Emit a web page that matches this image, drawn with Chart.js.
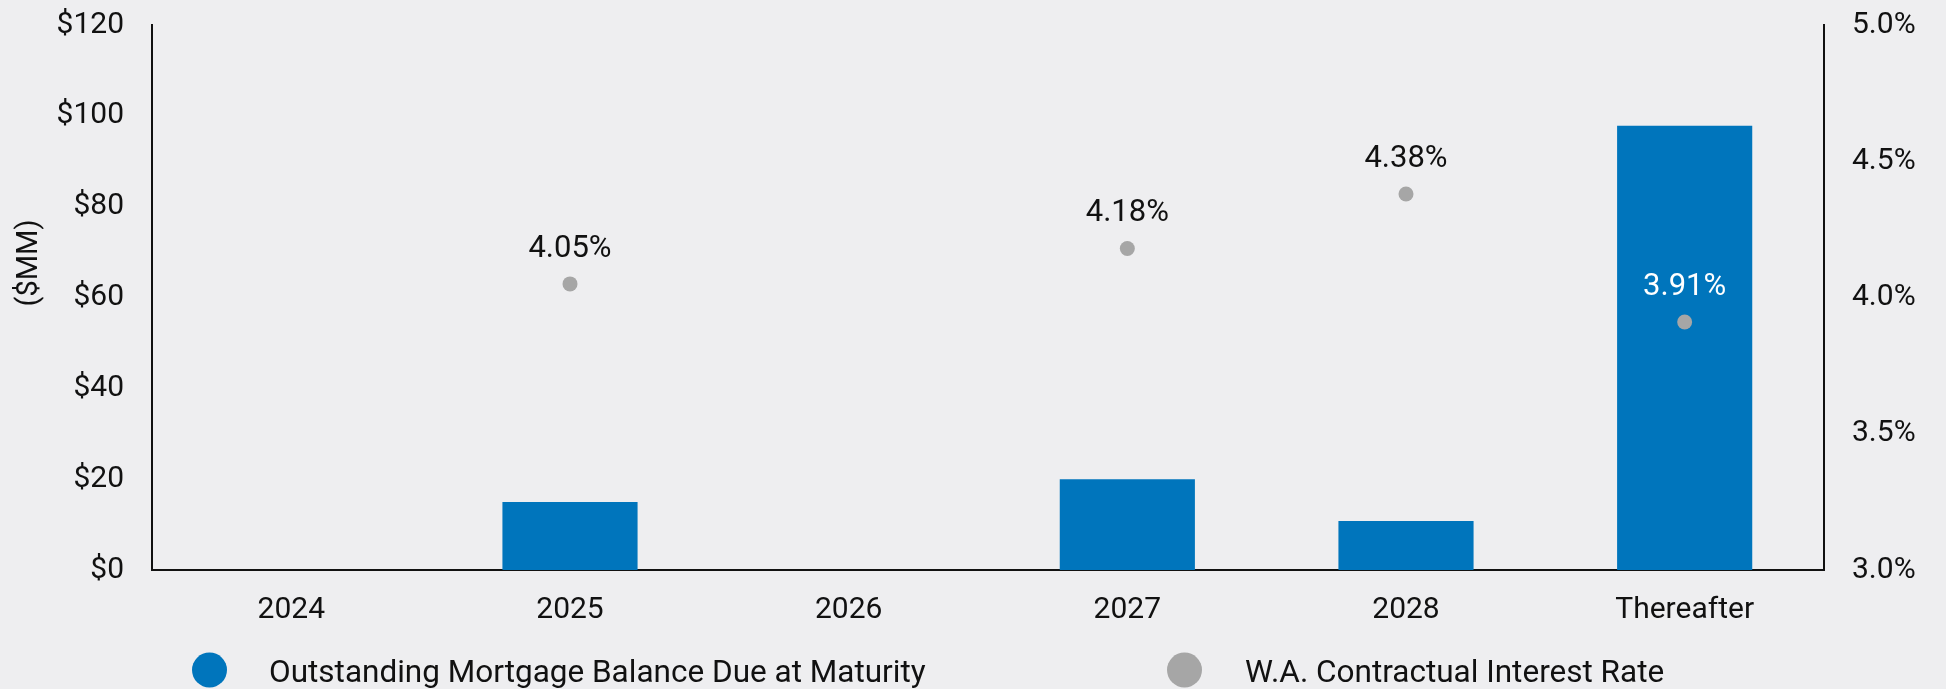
<!DOCTYPE html>
<html>
<head>
<meta charset="utf-8">
<script src="https://cdn.jsdelivr.net/npm/chart.js@4/dist/chart.umd.min.js"></script>
<style>
  html, body { margin: 0; padding: 0; background: #eeeef0; }
  #wrap { width: 1946px; height: 689px; }
</style>
</head>
<body>
<div id="wrap"><canvas id="maturityChart" width="1946" height="689"></canvas></div>
<script>
// categories and series
const categories = ['2024', '2025', '2026', '2027', '2028', 'Thereafter'];
const balanceMM = [null, 15.0, null, 20.0, 10.8, 97.8];
const interestRate = [null, 4.05, null, 4.18, 4.38, 3.91];
const rateLabels = [null, '4.05%', null, '4.18%', '4.38%', '3.91%'];
const rateLabelColors = [null, '#111111', null, '#111111', '#111111', '#ffffff'];

const BAR_COLOR = '#0075bc';
const DOT_COLOR = '#a6a6a6';
const FONT = 'Roboto, "Noto Sans", sans-serif';

// percentage labels above each dot
const rateLabelPlugin = {
  id: 'rateLabels',
  afterDatasetsDraw(chart) {
    const ctx = chart.ctx;
    const meta = chart.getDatasetMeta(1);
    ctx.save();
    ctx.font = '31px ' + FONT;
    ctx.textAlign = 'center';
    ctx.textBaseline = 'alphabetic';
    meta.data.forEach((pt, i) => {
      if (rateLabels[i] == null) return;
      ctx.fillStyle = rateLabelColors[i];
      ctx.fillText(rateLabels[i], pt.x, pt.y - 27);
    });
    ctx.restore();
  }
};

// y axis title + legend drawn by hand, spacing matches the original
const extrasPlugin = {
  id: 'extras',
  afterDraw(chart) {
    const ctx = chart.ctx;
    ctx.save();
    ctx.fillStyle = '#111111';
    ctx.font = '29px ' + FONT;
    ctx.textAlign = 'center';
    ctx.textBaseline = 'alphabetic';
    ctx.translate(37, 263);
    ctx.rotate(-Math.PI / 2);
    ctx.fillText('($MM)', 0, 0);
    ctx.restore();

    const items = [
      { x: 209.5, textX: 269, ds: chart.data.datasets[0] },
      { x: 1184.5, textX: 1245, ds: chart.data.datasets[1] },
    ];
    ctx.save();
    ctx.font = '31.5px ' + FONT;
    ctx.textAlign = 'left';
    ctx.textBaseline = 'alphabetic';
    items.forEach(it => {
      ctx.fillStyle = it.ds.backgroundColor;
      ctx.beginPath();
      ctx.arc(it.x, 670, 17.5, 0, Math.PI * 2);
      ctx.fill();
      ctx.fillStyle = '#111111';
      ctx.fillText(it.ds.label, it.textX, 682);
    });
    ctx.restore();
  }
};

const bgPlugin = {
  id: 'bg',
  beforeDraw(chart) {
    const ctx = chart.ctx;
    ctx.save();
    ctx.fillStyle = '#eeeef0';
    ctx.fillRect(0, 0, chart.width, chart.height);
    ctx.restore();
  }
};

const tickFont = { family: FONT, size: 30 };

// fixed axis widths; drop the label overflow padding so the plot top sits at 25px
const fitVertical = width => scale => {
  scale.width = width;
  scale.paddingTop = 0;
  scale.paddingBottom = 0;
};

const config = {
  data: {
    labels: categories,
    datasets: [
      {
        type: 'bar',
        label: 'Outstanding Mortgage Balance Due at Maturity',
        data: balanceMM,
        backgroundColor: BAR_COLOR,
        borderWidth: 0,
        barPercentage: 0.485,
        categoryPercentage: 1,
        yAxisID: 'y',
        order: 1,
      },
      {
        type: 'line',
        label: 'W.A. Contractual Interest Rate',
        data: interestRate,
        showLine: false,
        backgroundColor: DOT_COLOR,
        borderColor: DOT_COLOR,
        pointRadius: 7.5,
        pointBorderWidth: 0,
        pointHoverRadius: 7.5,
        yAxisID: 'y1',
        order: 0,
      },
    ],
  },
  options: {
    responsive: false,
    animation: false,
    layout: { padding: { top: 25, left: 0, right: 0, bottom: 0 } },
    plugins: {
      legend: { display: false },
      tooltip: { enabled: false },
    },
    scales: {
      x: {
        grid: { display: false, drawTicks: false },
        border: { display: true, color: '#111111', width: 2 },
        ticks: { color: '#111111', font: tickFont, padding: 22 },
        afterFit: scale => { scale.height = 119; },
      },
      y: {
        position: 'left',
        min: 0,
        max: 120,
        grid: { display: false, drawTicks: false },
        border: { display: true, color: '#111111', width: 2 },
        ticks: {
          stepSize: 20,
          color: '#111111',
          font: tickFont,
          padding: 28,
          callback: v => '$' + v,
        },
        afterFit: fitVertical(152),
      },
      y1: {
        position: 'right',
        min: 3,
        max: 5,
        grid: { display: false, drawTicks: false },
        border: { display: true, color: '#111111', width: 2 },
        ticks: {
          stepSize: 0.5,
          color: '#111111',
          font: tickFont,
          padding: 28,
          callback: v => v.toFixed(1) + '%',
        },
        afterFit: fitVertical(122),
      },
    },
  },
  plugins: [bgPlugin, rateLabelPlugin, extrasPlugin],
};

const chart = new Chart('maturityChart', config);
</script>
</body>
</html>
